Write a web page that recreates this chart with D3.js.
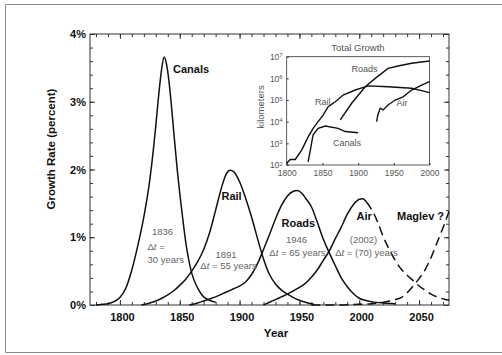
<!DOCTYPE html>
<html>
<head>
<meta charset="utf-8">
<script src="https://cdn.jsdelivr.net/npm/d3@7"></script>
<style>
  body { margin: 0; background: #fff; }
  svg { display: block; font-family: "Liberation Sans", Arial, sans-serif; }
</style>
</head>
<body>
<div id="chart"></div>
<script>
// growth rate curves, [year, percent]
const canalsRate = [[1780,0],[1785,0.01],[1790,0.02],[1795,0.05],[1800,0.11],[1805,0.25],[1810,0.52],[1815,0.88],[1820,1.30],[1825,1.85],[1828,2.3],[1830,2.65],[1833,3.2],[1835,3.5],[1837,3.66],[1839,3.55],[1841,3.3],[1843,2.95],[1845,2.55],[1848,1.98],[1850,1.65],[1853,1.2],[1855,0.93],[1860,0.47],[1865,0.25],[1870,0.12],[1875,0.07],[1880,0.04]];
const railRate = [[1818,0],[1825,0.03],[1830,0.06],[1835,0.10],[1840,0.15],[1845,0.21],[1850,0.29],[1855,0.38],[1860,0.50],[1865,0.64],[1870,0.82],[1875,1.07],[1880,1.40],[1885,1.74],[1889,1.94],[1892,1.99],[1895,1.97],[1900,1.82],[1905,1.58],[1910,1.30],[1915,0.98],[1920,0.68],[1925,0.45],[1930,0.31],[1935,0.22],[1940,0.16],[1945,0.11],[1950,0.07],[1955,0.04],[1962,0.01]];
const roadsRate = [[1858,0],[1865,0.03],[1870,0.06],[1875,0.09],[1880,0.12],[1885,0.16],[1890,0.20],[1895,0.24],[1900,0.28],[1905,0.34],[1910,0.45],[1915,0.61],[1920,0.82],[1925,1.04],[1930,1.27],[1935,1.47],[1940,1.61],[1945,1.68],[1948,1.69],[1952,1.65],[1955,1.58],[1960,1.45],[1965,1.22],[1970,0.97],[1975,0.77],[1980,0.58],[1985,0.40],[1990,0.27],[1995,0.17],[2000,0.10],[2005,0.07],[2010,0.05],[2020,0.03],[2030,0.02]];
const airRate = [[1920,0],[1925,0.04],[1930,0.08],[1935,0.12],[1940,0.16],[1945,0.21],[1950,0.26],[1955,0.32],[1960,0.41],[1965,0.52],[1970,0.66],[1975,0.80],[1980,0.98],[1985,1.15],[1990,1.34],[1995,1.48],[2000,1.56],[2003,1.57],[2006,1.52],[2010,1.42],[2015,1.24],[2020,1.01],[2025,0.82],[2030,0.66],[2035,0.53],[2040,0.44],[2045,0.36],[2050,0.28],[2055,0.22],[2060,0.16],[2065,0.12],[2070,0.09],[2075,0.07]];
const maglevRate = [[1960,0],[1980,0],[2000,0.01],[2010,0.02],[2020,0.04],[2025,0.06],[2030,0.08],[2035,0.11],[2040,0.18],[2045,0.28],[2050,0.39],[2055,0.52],[2060,0.70],[2065,0.92],[2070,1.14],[2075,1.38]];
const airDashFrom = 2006;

// total growth inset, [year, kilometers]
const railKm = [[1800,120],[1805,180],[1812,180],[1821,490],[1830,2000],[1837,4900],[1844,10000],[1851,20000],[1858,49000],[1868,83000],[1879,170000],[1896,290000],[1914,450000],[1942,410000],[1975,350000],[1989,270000],[2000,220000]];
const canalsKm = [[1830,140],[1834,710],[1837,2500],[1844,4900],[1854,6300],[1872,4900],[1882,3500],[1900,3100]];
const roadsKm = [[1875,12000],[1891,71000],[1910,410000],[1924,1000000],[1942,2900000],[1956,3700000],[1975,5000000],[2000,6300000]];
const airKm = [[1926,10000],[1927.5,20000],[1931,42000],[1935,35000],[1942,59000],[1952,100000],[1963,140000],[1975,290000],[1989,490000],[2000,710000]];

const yearTicks = [1800, 1850, 1900, 1950, 2000, 2050];
const rateTicks = [0, 1, 2, 3, 4];
const insetYearTicks = [1800, 1850, 1900, 1950, 2000];
const insetKmTicks = [1e2, 1e3, 1e4, 1e5, 1e6, 1e7];

const width = 502, height = 355;
const svg = d3.select('#chart').append('svg').attr('width', width).attr('height', height);

// outer frame
svg.append('path').attr('d', 'M510,4.5 H5.5 V352.5 H510').attr('fill', 'none').attr('stroke', '#8a8a8a');

const x = d3.scaleLinear().domain([1775, 2075]).range([90, 449]);
const y = d3.scaleLinear().domain([0, 4]).range([305, 34]);

function styleAxis(g) {
    g.select('.domain').remove();
    g.selectAll('line').attr('stroke', '#333');
}

const minorYears = d3.range(1780, 2075, 10);
const minorRates = d3.range(0, 4.01, 0.2);

// minor ticks on all four sides
svg.append('g').attr('transform', 'translate(0,305)')
    .call(d3.axisBottom(x).tickValues(minorYears).tickSizeInner(-3).tickSizeOuter(0).tickFormat(''))
    .call(styleAxis);
svg.append('g').attr('transform', 'translate(0,34)')
    .call(d3.axisTop(x).tickValues(minorYears).tickSizeInner(-3).tickSizeOuter(0).tickFormat(''))
    .call(styleAxis);
svg.append('g').attr('transform', 'translate(90,0)')
    .call(d3.axisLeft(y).tickValues(minorRates).tickSizeInner(-3).tickSizeOuter(0).tickFormat(''))
    .call(styleAxis);
svg.append('g').attr('transform', 'translate(449,0)')
    .call(d3.axisRight(y).tickValues(minorRates).tickSizeInner(-3).tickSizeOuter(0).tickFormat(''))
    .call(styleAxis);

// major ticks + labels
svg.append('g').attr('transform', 'translate(0,305)')
    .call(d3.axisBottom(x).tickValues(yearTicks).tickSizeInner(-5).tickSizeOuter(0).tickPadding(8).tickFormat(d3.format('d')))
    .call(styleAxis)
    .call(g => g.selectAll('text').attr('dx', 2).attr('font-size', 11).attr('font-weight', 'bold').attr('fill', '#111').attr('font-family', null));
svg.append('g').attr('transform', 'translate(0,34)')
    .call(d3.axisTop(x).tickValues(yearTicks).tickSizeInner(-5).tickSizeOuter(0).tickFormat(''))
    .call(styleAxis);
svg.append('g').attr('transform', 'translate(90,0)')
    .call(d3.axisLeft(y).tickValues(rateTicks).tickSizeInner(-5).tickSizeOuter(0).tickPadding(4).tickFormat(d => d + '%'))
    .call(styleAxis)
    .call(g => g.selectAll('text').attr('font-size', 11).attr('font-weight', 'bold').attr('fill', '#111').attr('font-family', null));
svg.append('g').attr('transform', 'translate(449,0)')
    .call(d3.axisRight(y).tickValues(rateTicks).tickSizeInner(-5).tickSizeOuter(0).tickFormat(''))
    .call(styleAxis);

svg.append('rect').attr('x', 90).attr('y', 34).attr('width', 359).attr('height', 271)
    .attr('fill', 'none').attr('stroke', '#333');

// curves
const line = d3.line().x(d => x(d[0])).y(d => y(d[1])).curve(d3.curveMonotoneX);
const curves = [
    { data: canalsRate, dash: null },
    { data: railRate, dash: null },
    { data: roadsRate, dash: null },
    { data: airRate.filter(d => d[0] <= airDashFrom), dash: null },
    { data: airRate.filter(d => d[0] >= airDashFrom), dash: '9,5' },
    { data: maglevRate, dash: '9,5' },
];
svg.append('g').selectAll('path')
    .data(curves)
    .join('path')
    .attr('d', d => line(d.data))
    .attr('fill', 'none')
    .attr('stroke', '#111')
    .attr('stroke-width', 1.5)
    .attr('stroke-dasharray', d => d.dash);

// curve labels
const bold = [
    ['Canals', 173, 73], ['Rail', 221.5, 200], ['Roads', 281.5, 226.5],
    ['Air', 356.5, 220], ['Maglev ?', 397, 220]
];
svg.append('g').selectAll('text').data(bold).join('text')
    .attr('x', d => d[1]).attr('y', d => d[2]).text(d => d[0])
    .attr('font-size', 11).attr('font-weight', 'bold').attr('fill', '#111');

const notes = [
    ['1836', 162.5, 235, 'middle'],
    ['Δt =', 147.5, 250, 'start'],
    ['30 years', 147.5, 263, 'start'],
    ['1891', 226, 258, 'middle'],
    ['Δt = 55 years', 228.5, 269, 'middle'],
    ['1946', 296.5, 242.5, 'middle'],
    ['Δt = 65 years', 297.5, 255.5, 'middle'],
    ['(2002)', 363.5, 242.5, 'middle'],
    ['Δt = (70) years', 366.5, 255.5, 'middle'],
];
svg.append('g').selectAll('text').data(notes).join('text')
    .attr('x', d => d[1]).attr('y', d => d[2]).attr('text-anchor', d => d[3])
    .attr('font-size', 9.5).attr('fill', '#666')
    .each(function(d) {
        const t = d3.select(this);
        if (d[0].startsWith('Δt')) {
            t.append('tspan').text('Δ');
            t.append('tspan').attr('font-style', 'italic').text('t');
            t.append('tspan').text(d[0].slice(2));
        } else {
            t.text(d[0]);
        }
    });

// axis titles
svg.append('text').attr('transform', 'translate(55,149) rotate(-90)')
    .attr('text-anchor', 'middle').attr('font-size', 11.5).attr('font-weight', 'bold').attr('fill', '#111')
    .text('Growth Rate (percent)');
svg.append('text').attr('x', 276).attr('y', 337)
    .attr('text-anchor', 'middle').attr('font-size', 11.5).attr('font-weight', 'bold').attr('fill', '#111')
    .text('Year');

// inset: total growth
const ix = d3.scaleLinear().domain([1800, 2000]).range([286.7, 429.5]);
const iy = d3.scaleLog().domain([1e2, 1e7]).range([165, 56.7]);
const inset = svg.append('g');

inset.append('g').attr('transform', 'translate(0,165)')
    .call(d3.axisBottom(ix).tickValues(insetYearTicks).tickSizeInner(-2).tickSizeOuter(0).tickPadding(5).tickFormat(d3.format('d')))
    .call(styleAxis)
    .call(g => g.selectAll('text').attr('font-size', 8.5).attr('fill', '#555').attr('font-family', null));
inset.append('g').attr('transform', 'translate(286.7,0)')
    .call(d3.axisLeft(iy).tickValues(insetKmTicks).tickSizeInner(-2).tickSizeOuter(0).tickPadding(4).tickFormat(''))
    .call(styleAxis)
    .call(g => g.selectAll('.tick').append('text')
        .attr('x', -4).attr('dy', '0.32em').attr('text-anchor', 'end').attr('fill', '#555').attr('font-size', 8.5)
        .each(function(d) {
            const t = d3.select(this);
            t.append('tspan').text('10');
            t.append('tspan').attr('dy', '-0.45em').attr('font-size', 6).text(Math.round(Math.log10(d)));
        }));

inset.append('rect').attr('x', 286.7).attr('y', 56.7).attr('width', 142.8).attr('height', 108.3)
    .attr('fill', 'none').attr('stroke', '#333').attr('stroke-width', 0.8);

const iline = d3.line().x(d => ix(d[0])).y(d => iy(d[1]));
inset.append('g').selectAll('path')
    .data([railKm, canalsKm, roadsKm, airKm])
    .join('path')
    .attr('d', iline)
    .attr('fill', 'none')
    .attr('stroke', '#111')
    .attr('stroke-width', 1.4);

const insetLabels = [['Roads', 351.5, 72], ['Rail', 315, 105], ['Air', 396.5, 106], ['Canals', 333, 146]];
inset.append('g').selectAll('text').data(insetLabels).join('text')
    .attr('x', d => d[1]).attr('y', d => d[2]).text(d => d[0])
    .attr('font-size', 9).attr('fill', '#555');

inset.append('text').attr('x', 358).attr('y', 51).attr('text-anchor', 'middle')
    .attr('font-size', 9.5).attr('fill', '#555').text('Total Growth');
inset.append('text').attr('transform', 'translate(264,107) rotate(-90)').attr('text-anchor', 'middle')
    .attr('font-size', 9.5).attr('fill', '#555').text('kilometers');
</script>
</body>
</html>
